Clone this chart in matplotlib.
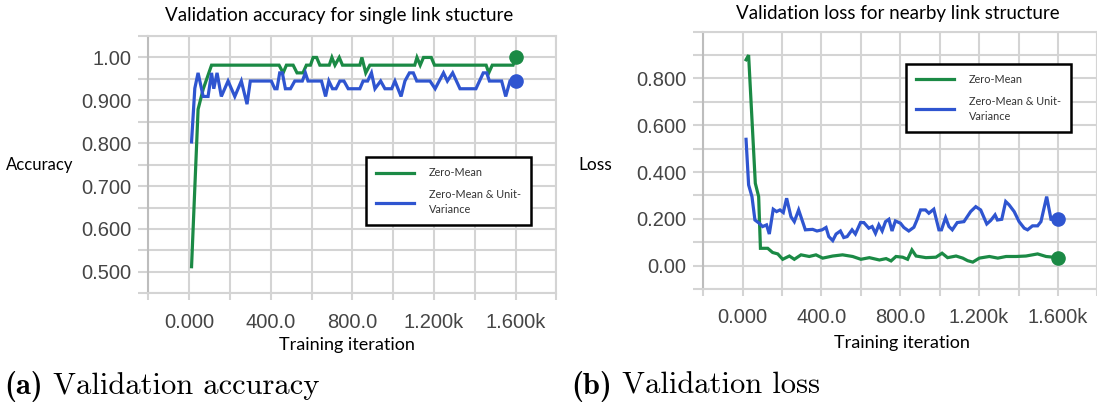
import matplotlib
matplotlib.use("Agg")
import matplotlib.pyplot as plt
from matplotlib.ticker import MultipleLocator, FixedLocator, FixedFormatter

# data -----------------------------------------------------------------------
acc_zm_iter = [12, 44, 69, 110, 441, 461, 477, 510, 529, 558, 575, 595, 608, 625,
               641, 687, 700, 715, 736, 752, 837, 847, 866, 886, 1106, 1117, 1133,
               1149, 1187, 1203, 1456, 1469, 1486, 1588, 1600]
acc_zm_val = [0.512, 0.879, 0.926, 0.982, 0.982, 0.964, 0.982, 0.982, 0.964, 0.964,
              0.982, 0.982, 1.0, 1.0, 0.982, 0.982, 1.0, 0.982, 1.0, 0.982, 0.982,
              1.0, 0.964, 0.982, 0.982, 1.0, 0.982, 1.0, 1.0, 0.982, 0.982, 0.964,
              0.982, 0.982, 1.0]

acc_uv_iter = [12, 28, 44, 69, 93, 110, 121, 137, 158, 191, 224, 256, 284, 300, 403,
               420, 431, 444, 457, 472, 497, 518, 555, 570, 583, 649, 669, 685, 703,
               720, 739, 759, 780, 837, 853, 875, 894, 911, 939, 960, 993, 1009, 1039,
               1058, 1080, 1099, 1116, 1181, 1206, 1247, 1266, 1292, 1328, 1406, 1442,
               1459, 1472, 1532, 1552, 1573, 1600]
acc_uv_val = [0.803, 0.928, 0.964, 0.909, 0.909, 0.964, 0.927, 0.964, 0.909, 0.945,
              0.909, 0.945, 0.891, 0.945, 0.945, 0.927, 0.927, 0.964, 0.964, 0.927,
              0.927, 0.945, 0.945, 0.964, 0.945, 0.945, 0.909, 0.945, 0.927, 0.927,
              0.945, 0.945, 0.927, 0.927, 0.945, 0.945, 0.964, 0.927, 0.945, 0.927,
              0.927, 0.945, 0.909, 0.945, 0.964, 0.964, 0.945, 0.945, 0.927, 0.964,
              0.945, 0.964, 0.927, 0.927, 0.964, 0.964, 0.945, 0.945, 0.909, 0.945,
              0.945]

loss_zm_iter = [17, 30, 64, 81, 90, 127, 152, 178, 203, 237, 262, 296, 338, 372, 406,
                457, 507, 558, 600, 643, 694, 728, 753, 778, 812, 837, 859, 880, 930,
                981, 1012, 1040, 1083, 1117, 1142, 1168, 1201, 1252, 1295, 1337, 1388,
                1438, 1497, 1540, 1600]
loss_zm_val = [0.88, 0.90, 0.352, 0.295, 0.074, 0.074, 0.056, 0.05, 0.027, 0.041,
               0.027, 0.046, 0.039, 0.046, 0.032, 0.041, 0.046, 0.039, 0.027, 0.034,
               0.024, 0.03, 0.02, 0.039, 0.036, 0.027, 0.067, 0.041, 0.034, 0.036,
               0.053, 0.034, 0.041, 0.032, 0.021, 0.015, 0.032, 0.039, 0.032, 0.039,
               0.039, 0.041, 0.05, 0.039, 0.034]

loss_uv_iter = [17, 30, 47, 62, 84, 101, 121, 135, 155, 172, 189, 206, 223, 245, 262,
                284, 318, 355, 377, 403, 423, 437, 457, 474, 496, 513, 530, 555, 572,
                598, 615, 640, 657, 674, 691, 708, 725, 742, 758, 775, 801, 818, 843,
                869, 886, 903, 928, 945, 970, 996, 1009, 1030, 1047, 1064, 1089, 1123,
                1157, 1183, 1208, 1239, 1259, 1281, 1293, 1315, 1335, 1352, 1378, 1403,
                1429, 1446, 1471, 1497, 1514, 1543, 1565, 1600]
loss_uv_val = [0.54, 0.345, 0.295, 0.195, 0.181, 0.167, 0.174, 0.135, 0.241, 0.231,
               0.238, 0.227, 0.288, 0.209, 0.188, 0.238, 0.153, 0.155, 0.148, 0.153,
               0.163, 0.124, 0.107, 0.135, 0.148, 0.12, 0.124, 0.153, 0.135, 0.184,
               0.184, 0.16, 0.167, 0.138, 0.174, 0.148, 0.188, 0.198, 0.148, 0.191,
               0.181, 0.163, 0.148, 0.164, 0.198, 0.238, 0.238, 0.224, 0.241, 0.153,
               0.153, 0.205, 0.167, 0.153, 0.184, 0.188, 0.231, 0.252, 0.238, 0.178,
               0.193, 0.217, 0.195, 0.198, 0.274, 0.26, 0.231, 0.188, 0.16, 0.153,
               0.17, 0.17, 0.188, 0.295, 0.198, 0.198]

x_ticks = [0, 400, 800, 1200, 1600]
x_labels = ["0.000", "400.0", "800.0", "1.200k", "1.600k"]
acc_ticks = [0.5, 0.6, 0.7, 0.8, 0.9, 1.0]
acc_labels = ["0.500", "0.600", "0.700", "0.800", "0.900", "1.00"]
loss_ticks = [0.0, 0.2, 0.4, 0.6, 0.8]
loss_labels = ["0.00", "0.200", "0.400", "0.600", "0.800"]
series_names = ["Zero-Mean", "Zero-Mean & Unit-\nVariance"]

GREEN = "#1b8a45"
BLUE = "#2f55d0"
GRID = "#d4d4d4"
W, H = 1097, 408

fig = plt.figure(figsize=(W / 100, H / 100), dpi=100)


def px(x, y):
    return x / W, 1 - y / H


def style_axes(ax, xlim, ylim, yminor, yticks, ylabels):
    ax.set_xlim(*xlim)
    ax.set_ylim(*ylim)
    ax.xaxis.set_major_locator(FixedLocator(x_ticks))
    ax.xaxis.set_major_formatter(FixedFormatter(x_labels))
    ax.xaxis.set_minor_locator(MultipleLocator(200))
    ax.yaxis.set_major_locator(FixedLocator(yticks))
    ax.yaxis.set_major_formatter(FixedFormatter(ylabels))
    ax.yaxis.set_minor_locator(MultipleLocator(yminor))
    ax.grid(True, which="both", color=GRID, linewidth=1.5)
    ax.set_axisbelow(True)
    for s in ["top", "right", "bottom"]:
        ax.spines[s].set_color(GRID)
        ax.spines[s].set_linewidth(1.5)
    ax.spines["left"].set_color("#bdbdbd")
    ax.spines["left"].set_linewidth(1.5)
    ax.tick_params(which="both", direction="out", color=GRID, width=1.5, length=7)
    ax.tick_params(axis="x", which="both", length=5)
    ax.tick_params(axis="y", pad=5)
    ax.tick_params(axis="x", pad=9)
    for lab in ax.get_xticklabels() + ax.get_yticklabels():
        lab.set_fontfamily("Liberation Sans")
        lab.set_fontsize(14.5)
        lab.set_color("#454545")


def draw(ax, xs1, ys1, xs2, ys2):
    l1, = ax.plot(xs1, ys1, color=GREEN, lw=2.3, solid_joinstyle="miter")
    l2, = ax.plot(xs2, ys2, color=BLUE, lw=2.3, solid_joinstyle="miter")
    ax.plot(xs1[-1], ys1[-1], "o", color=GREEN, ms=9.5, clip_on=False)
    ax.plot(xs2[-1], ys2[-1], "o", color=BLUE, ms=9.5, clip_on=False)
    return l1, l2


def legend(ax, handles, anchor):
    leg = ax.legend(handles, series_names, loc="upper left", bbox_to_anchor=anchor,
                    borderaxespad=0, fancybox=False, framealpha=1, edgecolor="black",
                    prop={"family": "Lato", "size": 7.8}, handlelength=3.5,
                    handletextpad=1.35, borderpad=0.95, labelspacing=0.95,
                    labelcolor="#333333")
    leg.get_frame().set_linewidth(1.8)
    for t in leg.get_texts():
        t.set_linespacing(1.45)


# left: accuracy
ax1 = fig.add_axes([148.3 / W, 1 - 293.3 / H, 408 / W, 257.3 / H])
style_axes(ax1, (-200, 1800), (0.45, 1.05), 0.05, acc_ticks, acc_labels)
h = draw(ax1, acc_zm_iter, acc_zm_val, acc_uv_iter, acc_uv_val)
legend(ax1, h, (0.534, 0.529))

# right: loss
ax2 = fig.add_axes([703.3 / W, 1 - 289 / H, 394 / W, 257.3 / H])
style_axes(ax2, (-200, 1800), (-0.1, 1.0), 0.1, loss_ticks, loss_labels)
h = draw(ax2, loss_zm_iter, loss_zm_val, loss_uv_iter, loss_uv_val)
legend(ax2, h, (0.514, 0.8745))

txt = dict(family="Lato", color="black", ha="center", va="center")
fig.text(*px(339, 15), "Validation accuracy for single link stucture", fontsize=13.5, **txt)
fig.text(*px(898, 14), "Validation loss for nearby link structure", fontsize=13.5, **txt)
fig.text(*px(40, 165), "Accuracy", fontsize=12, **txt)
fig.text(*px(595, 165), "Loss", fontsize=12.5, **txt)
fig.text(*px(347, 345), "Training iteration", fontsize=13, **txt)
fig.text(*px(902, 343), "Training iteration", fontsize=13, **txt)

# sub captions
fig.text(*px(4, 386), "(a)", family="cmb10", fontsize=22, va="center")
fig.text(*px(53, 386), "Validation accuracy", family="cmr10", fontsize=22, va="center")
fig.text(*px(571, 386), "(b)", family="cmb10", fontsize=22, va="center")
fig.text(*px(622, 386), "Validation loss", family="cmr10", fontsize=22, va="center")

fig.savefig("out.png", dpi=100)
